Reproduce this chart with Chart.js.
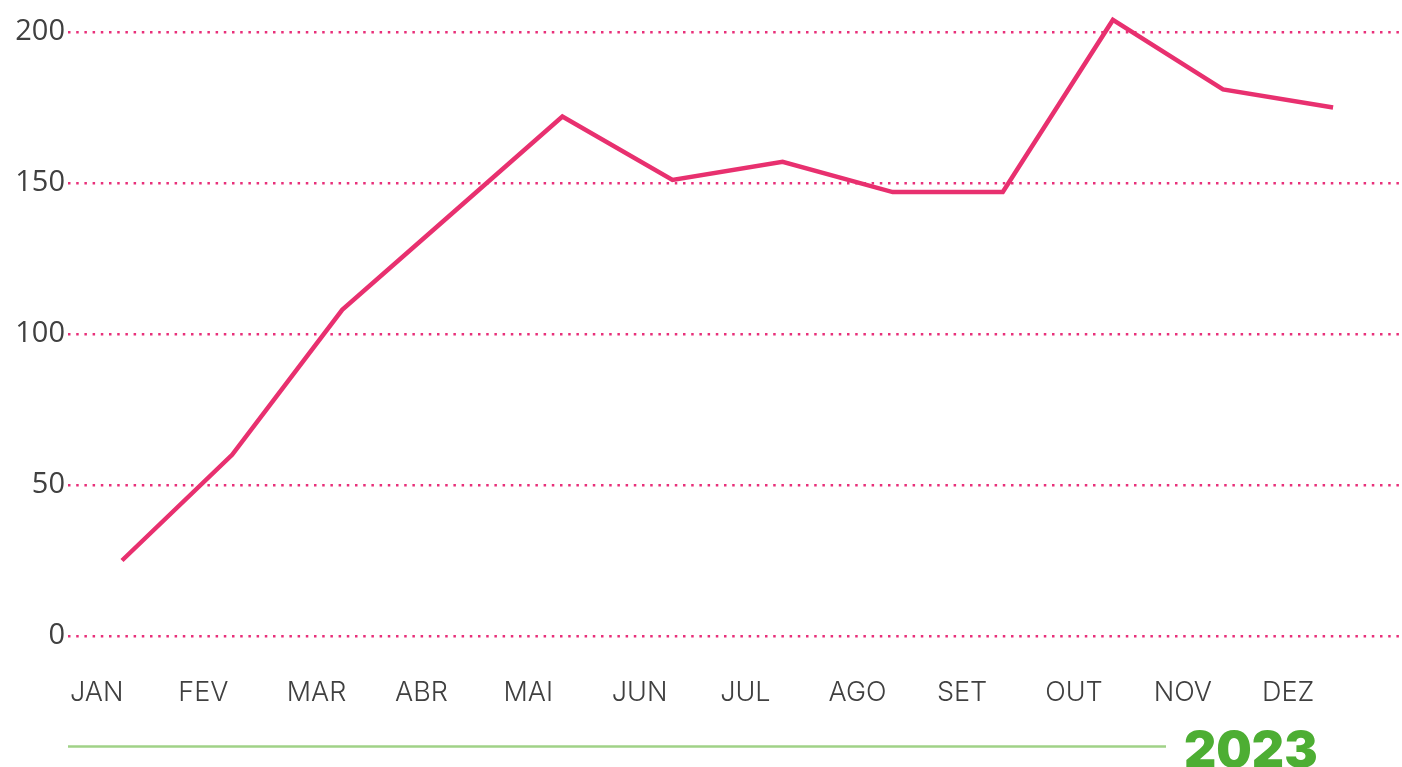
<!DOCTYPE html>
<html>
<head>
<meta charset="utf-8">
<script src="https://cdn.jsdelivr.net/npm/chart.js@4.4.1/dist/chart.umd.min.js"></script>
<style>
  html, body { margin: 0; padding: 0; background: #ffffff; overflow: hidden; }
  #wrap { position: relative; width: 1402px; height: 767px; }
</style>
</head>
<body>
<div id="wrap"><canvas id="c" width="1402" height="767"></canvas></div>
<script>
const months = ['JAN', 'FEV', 'MAR', 'ABR', 'MAI', 'JUN', 'JUL', 'AGO', 'SET', 'OUT', 'NOV', 'DEZ'];
const values = [25, 60, 108, 140, 172, 151, 157, 147, 147, 204, 181, 175];
const yTicks = [0, 50, 100, 150, 200];
const yearLabel = '2023';

const points = values.map((v, i) => ({ x: i, y: v }));

const yearPlugin = {
  id: 'yearBar',
  afterDraw(chart) {
    const ctx = chart.ctx;
    ctx.save();
    ctx.strokeStyle = '#a0d287';
    ctx.lineWidth = 2.5;
    ctx.beginPath();
    ctx.moveTo(68, 746.5);
    ctx.lineTo(1166, 746.5);
    ctx.stroke();
    ctx.fillStyle = '#4dae33';
    ctx.font = '900 50px Inter, "Open Sans", sans-serif';
    ctx.textAlign = 'left';
    ctx.textBaseline = 'alphabetic';
    ctx.fillText(yearLabel, 1184, 767);
    ctx.restore();
  }
};

new Chart(document.getElementById('c'), {
  type: 'line',
  data: {
    datasets: [{
      data: points,
      borderColor: '#e8306f',
      borderWidth: 4.5,
      pointRadius: 0,
      tension: 0,
      fill: false,
      clip: false,
      borderJoinStyle: 'miter',
      xAxisID: 'x',
      yAxisID: 'y'
    }]
  },
  options: {
    responsive: false,
    animation: false,
    layout: { padding: { top: 32, right: 0, bottom: 0, left: 0 } },
    plugins: { legend: { display: false }, tooltip: { enabled: false } },
    scales: {
      x: {
        type: 'linear',
        display: false,
        min: -0.4905,
        max: 11.626
      },
      x2: {
        type: 'linear',
        position: 'bottom',
        min: -0.0185,
        max: 12.292,
        grid: { display: false, drawTicks: false },
        border: { display: false },
        afterBuildTicks(scale) { scale.ticks = months.map((m, i) => ({ value: i })); },
        afterFit(scale) { scale.height = 131; },
        ticks: {
          align: 'start',
          padding: 41,
          autoSkip: false,
          maxRotation: 0,
          color: '#404040',
          font: { family: 'Inter, Roboto, sans-serif', size: 27, weight: '300' },
          callback: (v) => months[v] !== undefined ? months[v] : ''
        }
      },
      y: {
        min: 0,
        max: 200,
        afterBuildTicks(scale) { scale.ticks = yTicks.map(v => ({ value: v })); },
        afterFit(scale) { scale.width = 68; },
        grid: {
          color: '#e8307a',
          lineWidth: 2.5,
          drawTicks: false
        },
        border: { display: false, dash: [2.5, 5.7] },
        ticks: {
          padding: 3,
          color: '#404040',
          font: { family: '"Open Sans", sans-serif', size: 29, weight: '400' }
        }
      }
    }
  },
  plugins: [yearPlugin]
});
</script>
</body>
</html>
